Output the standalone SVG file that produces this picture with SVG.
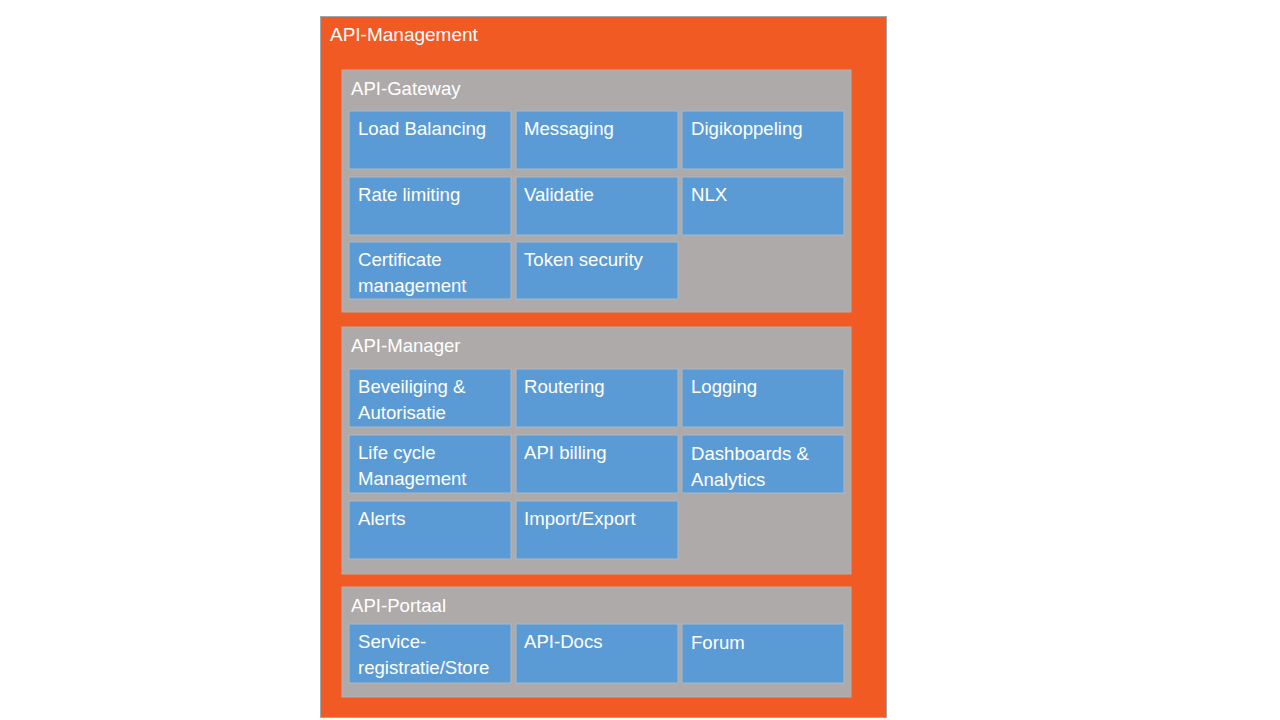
<svg xmlns="http://www.w3.org/2000/svg" width="1280" height="720" viewBox="0 0 1280 720">
<style>
.outer{fill:#F15A22;stroke:#A6A6A6;stroke-width:1}
.panel{fill:#AEAAAA;stroke:#B4B0B0;stroke-width:1}
.box{fill:#5B9BD5;stroke:#A9B8C8;stroke-width:1}
text{font-family:"Liberation Sans",Arial,sans-serif;fill:#FFFFFF}
.t{font-size:18.6px}
.h{font-size:18.6px}
.m{font-size:19px}
</style>
<rect width="1280" height="720" fill="#FFFFFF"/>
<g id="api-management">
<rect class="outer" x="320.5" y="16.5" width="566" height="701"/>
<text class="m" x="330" y="41">API-Management</text>
</g>
<g id="api-gateway">
<rect class="panel" x="342" y="70" width="509" height="242"/>
<text class="h" x="351" y="95">API-Gateway</text>
</g>
<g id="load-balancing"><rect class="box" x="349" y="111" width="162" height="58"/><text class="t" x="358" y="135">Load Balancing</text></g>
<g id="messaging"><rect class="box" x="516" y="111" width="162" height="58"/><text class="t" x="524" y="135">Messaging</text></g>
<g id="digikoppeling"><rect class="box" x="682" y="111" width="162" height="58"/><text class="t" x="691" y="135">Digikoppeling</text></g>
<g id="rate-limiting"><rect class="box" x="349" y="177" width="162" height="58"/><text class="t" x="358" y="201">Rate limiting</text></g>
<g id="validatie"><rect class="box" x="516" y="177" width="162" height="58"/><text class="t" x="524" y="201">Validatie</text></g>
<g id="nlx"><rect class="box" x="682" y="177" width="162" height="58"/><text class="t" x="691" y="201">NLX</text></g>
<g id="certificate-management"><rect class="box" x="349" y="242" width="162" height="57"/><text class="t" x="358" y="266">Certificate</text><text class="t" x="358" y="292">management</text></g>
<g id="token-security"><rect class="box" x="516" y="242" width="162" height="57"/><text class="t" x="524" y="266">Token security</text></g>
<g id="api-manager">
<rect class="panel" x="342" y="327" width="509" height="247"/>
<text class="h" x="351" y="352">API-Manager</text>
</g>
<g id="beveiliging"><rect class="box" x="349" y="369" width="162" height="58"/><text class="t" x="358" y="393">Beveiliging &amp;</text><text class="t" x="358" y="419">Autorisatie</text></g>
<g id="routering"><rect class="box" x="516" y="369" width="162" height="58"/><text class="t" x="524" y="393">Routering</text></g>
<g id="logging"><rect class="box" x="682" y="369" width="162" height="58"/><text class="t" x="691" y="393">Logging</text></g>
<g id="life-cycle"><rect class="box" x="349" y="435" width="162" height="58"/><text class="t" x="358" y="459">Life cycle</text><text class="t" x="358" y="485">Management</text></g>
<g id="api-billing"><rect class="box" x="516" y="435" width="162" height="58"/><text class="t" x="524" y="459">API billing</text></g>
<g id="dashboards"><rect class="box" x="682" y="435" width="162" height="58"/><text class="t" x="691" y="460">Dashboards &amp;</text><text class="t" x="691" y="486">Analytics</text></g>
<g id="alerts"><rect class="box" x="349" y="501" width="162" height="58"/><text class="t" x="358" y="525">Alerts</text></g>
<g id="import-export"><rect class="box" x="516" y="501" width="162" height="58"/><text class="t" x="524" y="525">Import/Export</text></g>
<g id="api-portaal">
<rect class="panel" x="342" y="587" width="509" height="110"/>
<text class="h" x="351" y="612">API-Portaal</text>
</g>
<g id="service-registratie"><rect class="box" x="349" y="624" width="162" height="59"/><text class="t" x="358" y="648">Service-</text><text class="t" x="358" y="674">registratie/Store</text></g>
<g id="api-docs"><rect class="box" x="516" y="624" width="162" height="59"/><text class="t" x="524" y="648">API-Docs</text></g>
<g id="forum"><rect class="box" x="682" y="624" width="162" height="59"/><text class="t" x="691" y="649">Forum</text></g>
<g id="connectors"></g>
</svg>
